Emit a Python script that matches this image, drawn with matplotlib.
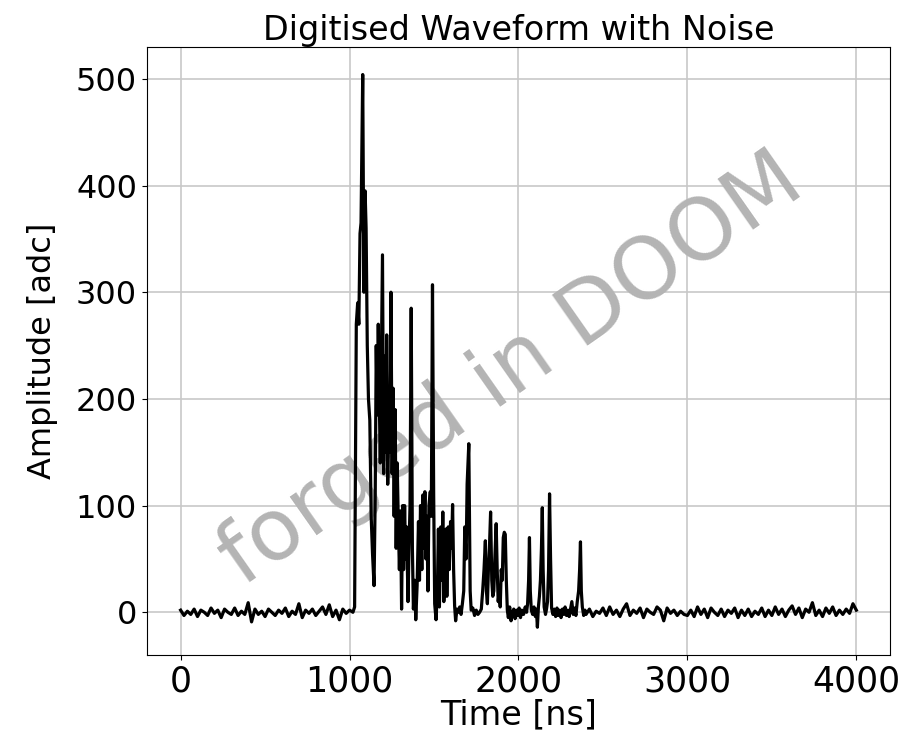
import numpy as np
import matplotlib
matplotlib.use("Agg")
from matplotlib import pyplot as plt

##################################
# DATA
##################################
# baseline before the pulse, one sample every 20 ns
t_pre = np.arange(0, 1040, 20)
a_pre = [2, -3, 1, -2, 3, -4, 2, 0, -3, 4,
         -1, 2, -5, 3, 0, -2, 4, -3, 1, -2,
         9, -9, 3, -2, 1, -4, 3, 0, -3, 2,
         -1, 4, -4, 1, -2, 8, -5, 2, -1, 3,
         -3, 1, 5, -2, 7, -4, 2, -7, 3, -1,
         2, 0]

# pulse region, irregular sample times [ns]
t_pulse = [1030, 1040, 1048, 1055, 1062, 1068, 1078, 1085, 1092, 1098,
           1105, 1112, 1120, 1128, 1136, 1145, 1152, 1158, 1164, 1170,
           1176, 1182, 1188, 1195, 1202, 1208, 1214, 1220, 1226, 1232,
           1238, 1245, 1252, 1258, 1264, 1270, 1276, 1282, 1288, 1295,
           1302, 1308, 1314, 1320, 1326, 1332, 1338, 1346, 1352, 1358,
           1365, 1372, 1378, 1386, 1392, 1400, 1408, 1414, 1420, 1428,
           1434, 1440, 1446, 1452, 1458, 1464, 1470, 1478, 1484, 1491,
           1498, 1504, 1512, 1520, 1526, 1532, 1540, 1546, 1552, 1558,
           1564, 1570, 1576, 1584, 1590, 1598, 1604, 1610, 1616, 1622,
           1628, 1636, 1644, 1652, 1660, 1668, 1676, 1682, 1690, 1696,
           1706, 1714, 1720, 1730, 1740, 1750, 1760, 1770, 1780, 1788,
           1796, 1804, 1810, 1816, 1822, 1828, 1835, 1842, 1848, 1854,
           1860, 1868, 1874, 1880, 1886, 1892, 1898, 1904, 1910, 1916,
           1922, 1928, 1934, 1940, 1948, 1956, 1964, 1972, 1980, 1988,
           1996, 2004, 2012, 2020, 2030, 2040, 2048, 2054, 2060, 2065,
           2070, 2076, 2084, 2092, 2100, 2106, 2112, 2118, 2124, 2130,
           2136, 2141, 2146, 2152, 2160, 2166, 2172, 2178, 2184, 2190,
           2196, 2204, 2212, 2220, 2228, 2236, 2244, 2252, 2260, 2268,
           2276, 2284, 2292, 2300, 2308, 2316, 2324, 2332, 2340, 2348,
           2356, 2362, 2367, 2372, 2378, 2386, 2394]
a_pulse = [5, 270, 290, 270, 355, 365, 504, 300, 395, 360,
           250, 200, 180, 90, 55, 25, 110, 250, 185, 270,
           200, 140, 230, 335, 130, 240, 150, 260, 120, 190,
           150, 300, 130, 210, 90, 190, 60, 140, 90, 40,
           95, 3, 100, 40, 100, 50, 80, 10, 60, 100,
           285, 60, 3, 30, -7, 25, 85, 30, 100, 40,
           110, 60, 113, 50, 90, 20, 100, 113, 90, 307,
           110, 8, -7, 20, 78, 5, 80, 30, 94, 10,
           30, 78, 15, 80, 40, 85, 60, 101, 40, 6,
           -8, 3, 0, 5, -2, 8, 20, 80, 50, 120,
           158, 20, 2, 4, -3, 2, -2, 0, 3, 20,
           40, 67, 20, 8, 40, 60, 94, 30, 15, 20,
           50, 83, 40, 10, 20, 5, 40, 30, 70, 75,
           73, 30, 2, -5, 5, -8, 0, 3, -6, 2,
           -3, 4, -5, 2, -2, 5, 0, 8, 30, 70,
           20, 2, -2, 5, -4, 3, -14, 5, 15, 30,
           60, 98, 40, 5, -2, 3, 10, 40, 111, 50,
           4, -2, 3, -4, 4, -3, 2, -5, 3, -2,
           5, -3, 2, -4, 3, 10, -2, 4, -3, 10,
           20, 40, 66, 20, 5, -3, 2]

# baseline after the pulse, one sample every 20 ns
t_post = np.arange(2400, 4020, 20)
a_post = [-2, 3, -4, 1, -1, 4, -3, 5, -2, 2,
          -4, 3, 8, -3, 2, -1, 4, -5, 3, 0,
          -2, 5, 2, -8, 4, -1, 2, -3, 1, -2,
          -3, 2, -4, 5, -2, 3, -5, 4, 0, -3,
          3, -4, 2, -1, 4, -5, 2, -3, 3, -4,
          1, -2, 4, -4, 2, -3, 5, -2, 3, -4,
          2, 6, -2, 4, -5, 3, 0, 9, -3, 2,
          -4, 4, -1, 5, -3, 2, -2, 3, -1, 8,
          2]

time_ns = np.concatenate([t_pre, t_pulse, t_post])
amp_adc = np.concatenate([a_pre, a_pulse, a_post])

##################################
# PLOT
##################################
fig = plt.figure(figsize=(9.12, 7.45), dpi=100)
ax = fig.add_axes([0.161, 0.121, 0.815, 0.816])

ax.plot(time_ns, amp_adc, color="black", lw=2.3, zorder=3)

ax.set_title("Digitised Waveform with Noise", fontsize=24, pad=4)
ax.set_xlabel("Time [ns]", fontsize=24, labelpad=0)
ax.set_ylabel("Amplitude [adc]", fontsize=23, labelpad=13)
ax.tick_params(axis="x", labelsize=25)
ax.tick_params(axis="y", labelsize=23)
ax.set_xticks([0, 1000, 2000, 3000, 4000])
ax.set_yticks([0, 100, 200, 300, 400, 500])
ax.grid(True, color="#c8c8c8", lw=1.2)

# watermark, sits under the trace
ax.text(0.561, 0.503, "forged in DOOM", fontsize=62, color="#b4b4b4",
        rotation=35, ha="center", va="center", rotation_mode="anchor",
        transform=fig.transFigure, zorder=2)

fig.savefig("out.png", dpi=100)
